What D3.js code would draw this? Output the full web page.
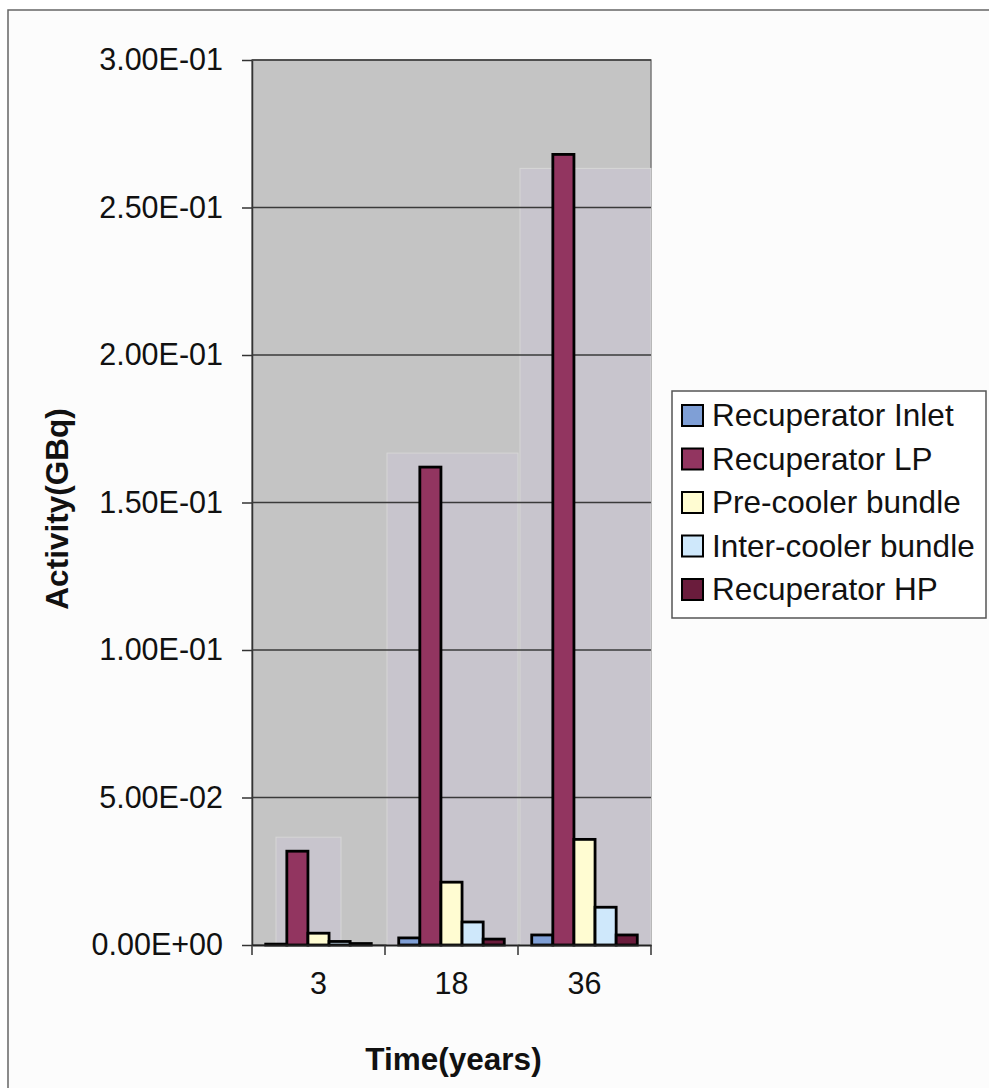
<!DOCTYPE html>
<html>
<head>
<meta charset="utf-8">
<script src="https://cdn.jsdelivr.net/npm/d3@7"></script>
<style>
  body { margin: 0; background: #fff; }
  text { font-family: "Liberation Sans", Arial, sans-serif; fill: #111; }
</style>
</head>
<body>
<div class="chart"></div>
<script>
const WIDTH = 989;
const HEIGHT = 1088;
const PLOT = {LEFT: 252, RIGHT: 651, TOP: 60, BOTTOM: 945};

// data
var categories = ['3', '18', '36'];
var seriesNames = ['Recuperator Inlet', 'Recuperator LP', 'Pre-cooler bundle', 'Inter-cooler bundle', 'Recuperator HP'];
var recupInlet = [0.0003, 0.0024, 0.0034];
var recupLP = [0.0318, 0.162, 0.268];
var preCooler = [0.004, 0.0213, 0.0358];
var interCooler = [0.0012, 0.0078, 0.0128];
var recupHP = [0.0005, 0.002, 0.0034];
var yTicks = [0, 0.05, 0.10, 0.15, 0.20, 0.25, 0.30];
var yTickLabels = ['0.00E+00', '5.00E-02', '1.00E-01', '1.50E-01', '2.00E-01', '2.50E-01', '3.00E-01'];

var colors = ['#7f9fd6', '#923560', '#fffcd2', '#cfe8fb', '#6a1c3c'];
var seriesValues = [recupInlet, recupLP, preCooler, interCooler, recupHP];

var xScale = d3.scaleBand().domain(categories).range([PLOT.LEFT, PLOT.RIGHT]);
var barScale = d3.scaleBand().domain(d3.range(seriesNames.length))
    .range([0, xScale.bandwidth()]).paddingOuter(0.65).paddingInner(0);
var yScale = d3.scaleLinear().domain([0, 0.3]).range([PLOT.BOTTOM, PLOT.TOP]);

var svg = d3.select('.chart').append('svg')
    .attr('width', WIDTH)
    .attr('height', HEIGHT);

// outer chart frame (bottom / right run off the page)
svg.append('rect')
    .attr('x', 8).attr('y', 10)
    .attr('width', 1000).attr('height', 1100)
    .attr('fill', '#fcfcfc')
    .attr('stroke', '#666').attr('stroke-width', 1.5);

// plot area
svg.append('rect')
    .attr('x', PLOT.LEFT).attr('y', PLOT.TOP)
    .attr('width', PLOT.RIGHT - PLOT.LEFT).attr('height', PLOT.BOTTOM - PLOT.TOP)
    .attr('fill', '#c4c4c4')
    .attr('stroke', '#7a7a7a').attr('stroke-width', 1.5);

// lighter speckled patch behind each group (scan texture)
var patchOffset = [14, 14, -14];
svg.append('g').selectAll('rect')
    .data(categories)
    .join('rect')
    .attr('x', (d, i) => xScale(d) + (i === 0 ? 24 : 2))
    .attr('y', (d, i) => yScale(d3.max(seriesValues, s => s[i])) - patchOffset[i])
    .attr('width', (d, i) => i === 0 ? 65 : xScale.bandwidth() - 2)
    .attr('height', (d, i) => PLOT.BOTTOM - yScale(d3.max(seriesValues, s => s[i])) + patchOffset[i])
    .attr('fill', '#c8c5cd')
    .attr('stroke', '#d6d6d6').attr('stroke-width', 1);

// gridlines + y axis
var yAxis = d3.axisLeft(yScale)
    .tickValues(yTicks)
    .tickFormat((d, i) => yTickLabels[i])
    .tickSizeOuter(0)
    .tickSizeInner(10);

var yAxisG = svg.append('g')
    .attr('transform', 'translate(' + PLOT.LEFT + ',0)')
    .call(yAxis);
yAxisG.select('.domain').attr('stroke', '#333').attr('stroke-width', 1.5);
yAxisG.selectAll('.tick line').attr('stroke', '#333').attr('stroke-width', 1.5);
yAxisG.selectAll('.tick text')
    .attr('x', -29)
    .style('font-size', '30.5px')
    .style('font-family', '"Liberation Sans", Arial, sans-serif')
    .attr('fill', '#111');

svg.append('g').selectAll('line')
    .data(yTicks.slice(1))
    .join('line')
    .attr('x1', PLOT.LEFT).attr('x2', PLOT.RIGHT)
    .attr('y1', d => yScale(d)).attr('y2', d => yScale(d))
    .attr('stroke', '#3a3a3a').attr('stroke-width', 1.5);

// bars
var groups = svg.append('g').selectAll('g')
    .data(categories)
    .join('g')
    .attr('transform', d => 'translate(' + xScale(d) + ',0)');

groups.selectAll('rect')
    .data((d, i) => seriesValues.map((s, k) => ({k: k, v: s[i]})))
    .join('rect')
    .attr('x', d => barScale(d.k))
    .attr('y', d => yScale(d.v))
    .attr('width', barScale.bandwidth())
    .attr('height', d => PLOT.BOTTOM - yScale(d.v))
    .attr('fill', d => colors[d.k])
    .attr('stroke', '#000').attr('stroke-width', 2.8);

// x axis
var xAxis = d3.axisBottom(xScale).tickSize(0).tickSizeOuter(0);
var xAxisG = svg.append('g')
    .attr('transform', 'translate(0,' + PLOT.BOTTOM + ')')
    .call(xAxis);
xAxisG.select('.domain').attr('stroke', '#222').attr('stroke-width', 2);
xAxisG.selectAll('.tick text')
    .attr('y', 27)
    .style('font-size', '30.5px')
    .style('font-family', '"Liberation Sans", Arial, sans-serif')
    .attr('fill', '#111');

// category separators below the axis
svg.append('g').selectAll('line')
    .data(categories.concat(['end']))
    .join('line')
    .attr('x1', (d, i) => i < categories.length ? xScale(d) : PLOT.RIGHT)
    .attr('x2', (d, i) => i < categories.length ? xScale(d) : PLOT.RIGHT)
    .attr('y1', PLOT.BOTTOM).attr('y2', PLOT.BOTTOM + 10)
    .attr('stroke', '#333').attr('stroke-width', 1.5);

// axis titles
svg.append('text')
    .attr('x', (PLOT.LEFT + PLOT.RIGHT) / 2 + 2)
    .attr('y', 1070)
    .attr('text-anchor', 'middle')
    .style('font-size', '31.5px').style('font-weight', 'bold')
    .text('Time(years)');

svg.append('text')
    .attr('transform', 'translate(68,509) rotate(-90)')
    .attr('text-anchor', 'middle')
    .style('font-size', '31.5px').style('font-weight', 'bold')
    .text('Activity(GBq)');

// legend
var legend = svg.append('g').attr('transform', 'translate(672,391)');
legend.append('rect')
    .attr('width', 314).attr('height', 227)
    .attr('fill', '#fff')
    .attr('stroke', '#555').attr('stroke-width', 1.5);

var items = legend.selectAll('g.item')
    .data(seriesNames)
    .join('g')
    .attr('class', 'item')
    .attr('transform', (d, i) => 'translate(10,' + (24 + i * 43.5) + ')');

items.append('rect')
    .attr('x', 0).attr('y', -10)
    .attr('width', 21).attr('height', 21)
    .attr('fill', (d, i) => colors[i])
    .attr('stroke', '#000').attr('stroke-width', 2);

items.append('text')
    .attr('x', 30).attr('y', 0)
    .attr('dy', '0.36em')
    .style('font-size', '31.5px')
    .text(d => d);
</script>
</body>
</html>
